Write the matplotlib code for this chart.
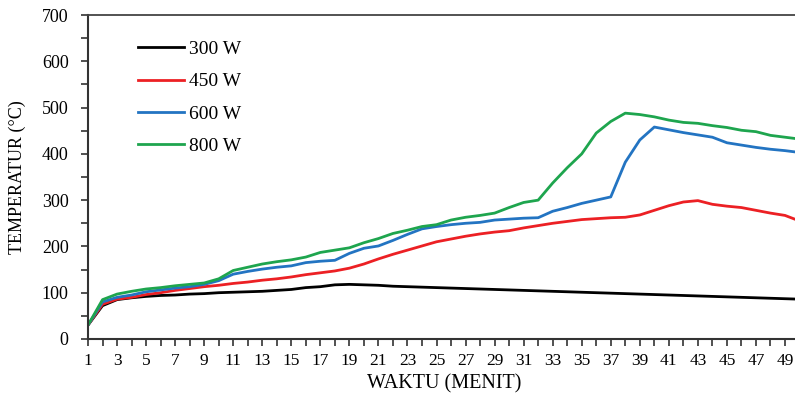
import numpy as np
import matplotlib
matplotlib.use('Agg')
import matplotlib.pyplot as plt
from matplotlib.ticker import MultipleLocator

minutes = list(range(1, 51))

temp_300 = [30, 72, 85, 89, 92, 94, 95, 97, 98, 100,
            101, 102, 103, 105, 107, 111, 113, 117, 118, 117,
            116, 114, 113, 112, 111, 110, 109, 108, 107, 106,
            105, 104, 103, 102, 101, 100, 99, 98, 97, 96,
            95, 94, 93, 92, 91, 90, 89, 88, 87, 86]
temp_450 = [30, 75, 86, 90, 96, 100, 105, 109, 113, 116,
            120, 123, 127, 130, 134, 139, 143, 147, 153, 162,
            173, 183, 192, 201, 210, 216, 222, 227, 231, 234,
            240, 245, 250, 254, 258, 260, 262, 263, 268, 278,
            288, 296, 299, 291, 287, 284, 278, 272, 267, 255]
temp_600 = [30, 80, 90, 95, 102, 106, 110, 113, 118, 126,
            140, 146, 151, 155, 158, 165, 168, 170, 185, 196,
            201, 213, 226, 238, 243, 247, 250, 252, 257, 259,
            261, 262, 276, 284, 293, 300, 307, 382, 430, 458,
            452, 446, 441, 436, 424, 419, 414, 410, 407, 403]
temp_800 = [30, 85, 97, 103, 108, 111, 115, 118, 121, 130,
            148, 155, 162, 167, 171, 177, 187, 192, 197, 208,
            217, 228, 235, 243, 247, 257, 263, 267, 272, 284,
            295, 300, 337, 370, 400, 445, 470, 488, 485, 480,
            473, 468, 466, 461, 457, 451, 448, 440, 436, 432]

series = [
    ('300 W', temp_300, 'black'),
    ('450 W', temp_450, '#ec2024'),
    ('600 W', temp_600, '#2374c2'),
    ('800 W', temp_800, '#1ea54e'),
]

plt.rcParams['font.family'] = ['Liberation Serif', 'DejaVu Serif']

fig = plt.figure(figsize=(7.95, 3.96), dpi=100)
ax = fig.add_axes([0.1107, 0.144, 0.895, 0.818])

for label, vals, color in series:
    ax.plot(minutes, vals, color=color, lw=2, label=label)

ax.set_xlim(1, 50)
ax.set_ylim(0, 700)
ax.yaxis.set_major_locator(MultipleLocator(100))
ax.yaxis.set_minor_locator(MultipleLocator(50))
ax.set_xticks(minutes)
ax.set_xticklabels([str(m) if m % 2 == 1 else '' for m in minutes])
ax.tick_params(axis='both', which='both', direction='out', length=5,
               width=1.2, labelsize=13, color='#333333')
ax.tick_params(axis='x', pad=5, labelsize=12.5)
ax.tick_params(axis='y', pad=9)

for side in ['left', 'bottom']:
    ax.spines[side].set_linewidth(1.5)
    ax.spines[side].set_color('#333333')
ax.spines['top'].set_linewidth(1.3)
ax.spines['top'].set_color('#444444')
ax.spines['right'].set_visible(False)

ax.set_xlabel('WAKTU (MENIT)', fontsize=14.5, labelpad=4)
ax.set_ylabel('TEMPERATUR (°C)', fontsize=13, labelpad=11)

ax.legend(loc='upper left', bbox_to_anchor=(0.045, 0.975), frameon=False,
          fontsize=14, handlelength=2.4, handletextpad=0.25, labelspacing=0.75)

fig.savefig('out.png', dpi=100)
